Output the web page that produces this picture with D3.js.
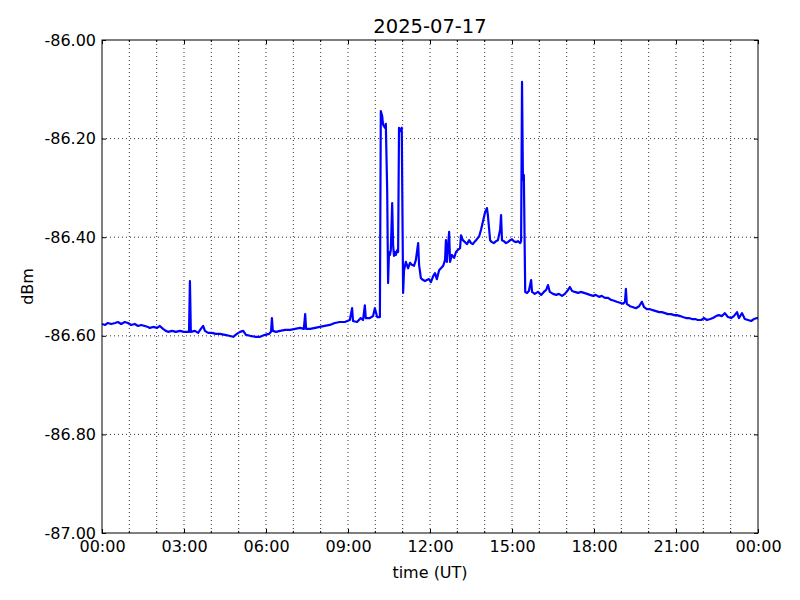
<!DOCTYPE html>
<html>
<head>
<meta charset="utf-8">
<script src="https://cdn.jsdelivr.net/npm/d3@7"></script>
<style>
  body { margin: 0; background: #fff; }
  text { font-family: "DejaVu Sans", sans-serif; fill: #000; }
</style>
</head>
<body>
<div id="chart"></div>
<script>
// readings for 2025-07-17, time of day (UT) and level in dBm
var times = [
  "00:00","00:07","00:13","00:20","00:29","00:35","00:42","00:50","00:57","01:04",
  "01:12","01:19","01:26","01:34","01:41","01:45","01:52","02:01","02:07","02:14",
  "02:20","02:25","02:34","02:42","02:51","03:00","03:09","03:11","03:13","03:15",
  "03:24","03:31","03:37","03:42","03:46","03:53","04:01","04:10","04:19","04:30",
  "04:39","04:48","04:56","05:03","05:10","05:16","05:25","05:36","05:47","05:58",
  "06:07","06:11","06:13","06:15","06:22","06:31","06:42","06:53","07:04","07:15",
  "07:23","07:26","07:28","07:37","07:48","07:58","08:09","08:20","08:31","08:42",
  "08:53","09:04","09:09","09:11","09:20","09:28","09:33","09:37","09:39","09:48",
  "09:55","09:59","10:04","10:10","10:12","10:15","10:17","10:21","10:23","10:26",
  "10:28","10:30","10:32","10:34","10:37","10:39","10:41","10:43","10:45","10:48",
  "10:50","10:52","10:54","10:56","10:58","11:01","11:03","11:07","11:12","11:16",
  "11:20","11:25","11:29","11:34","11:36","11:40","11:45","11:49","11:53","11:58",
  "12:02","12:07","12:11","12:15","12:20","12:24","12:29","12:33","12:35","12:37",
  "12:42","12:44","12:48","12:53","12:57","13:01","13:06","13:08","13:12","13:17",
  "13:21","13:26","13:30","13:34","13:39","13:43","13:48","13:52","13:56","14:01",
  "14:05","14:07","14:12","14:16","14:20","14:25","14:29","14:34","14:36","14:38",
  "14:42","14:47","14:51","14:56","15:00","15:04","15:09","15:13","15:18","15:20",
  "15:22","15:24","15:26","15:29","15:33","15:37","15:42","15:44","15:50","15:57",
  "16:04","16:10","16:15","16:19","16:23","16:30","16:37","16:43","16:50","16:56",
  "17:03","17:07","17:12","17:18","17:25","17:31","17:38","17:45","17:51","17:58",
  "18:04","18:11","18:17","18:24","18:31","18:37","18:44","18:50","18:57","19:04",
  "19:08","19:10","19:12","19:19","19:26","19:32","19:39","19:45","19:50","19:56",
  "20:03","20:09","20:16","20:23","20:29","20:36","20:42","20:49","20:56","21:02",
  "21:09","21:15","21:22","21:28","21:35","21:42","21:48","21:55","22:01","22:08",
  "22:15","22:21","22:28","22:34","22:41","22:47","22:54","23:01","23:07","23:14",
  "23:18","23:25","23:31","23:38","23:45","23:51","23:58","24:00"
];

var dbm = [
  -86.576,-86.578,-86.574,-86.576,-86.574,-86.572,-86.576,-86.572,-86.574,-86.578,
  -86.576,-86.580,-86.578,-86.580,-86.582,-86.584,-86.582,-86.584,-86.580,-86.586,
  -86.590,-86.592,-86.590,-86.592,-86.590,-86.592,-86.592,-86.592,-86.489,-86.592,
  -86.590,-86.594,-86.586,-86.580,-86.590,-86.594,-86.594,-86.596,-86.596,-86.598,
  -86.600,-86.602,-86.596,-86.592,-86.590,-86.598,-86.600,-86.602,-86.602,-86.598,
  -86.596,-86.592,-86.564,-86.590,-86.592,-86.590,-86.588,-86.588,-86.586,-86.584,
  -86.586,-86.556,-86.586,-86.586,-86.584,-86.582,-86.580,-86.578,-86.574,-86.572,
  -86.572,-86.568,-86.544,-86.570,-86.572,-86.564,-86.568,-86.538,-86.564,-86.564,
  -86.560,-86.544,-86.562,-86.562,-86.144,-86.154,-86.172,-86.178,-86.170,-86.304,
  -86.493,-86.430,-86.436,-86.426,-86.331,-86.416,-86.438,-86.430,-86.436,-86.426,
  -86.430,-86.178,-86.185,-86.183,-86.178,-86.513,-86.467,-86.450,-86.463,-86.452,
  -86.456,-86.458,-86.446,-86.412,-86.456,-86.483,-86.487,-86.489,-86.487,-86.485,
  -86.491,-86.479,-86.473,-86.485,-86.467,-86.463,-86.458,-86.446,-86.406,-86.450,
  -86.389,-86.450,-86.436,-86.442,-86.430,-86.426,-86.422,-86.396,-86.406,-86.410,
  -86.414,-86.406,-86.412,-86.414,-86.408,-86.404,-86.398,-86.385,-86.369,-86.349,
  -86.341,-86.355,-86.406,-86.410,-86.412,-86.408,-86.406,-86.385,-86.355,-86.406,
  -86.408,-86.412,-86.410,-86.406,-86.404,-86.408,-86.410,-86.408,-86.412,-86.408,
  -86.085,-86.284,-86.274,-86.511,-86.513,-86.509,-86.487,-86.511,-86.515,-86.511,
  -86.517,-86.511,-86.507,-86.497,-86.511,-86.515,-86.517,-86.515,-86.519,-86.515,
  -86.507,-86.501,-86.509,-86.511,-86.513,-86.511,-86.513,-86.515,-86.517,-86.519,
  -86.517,-86.521,-86.519,-86.523,-86.523,-86.527,-86.529,-86.531,-86.533,-86.535,
  -86.531,-86.505,-86.535,-86.540,-86.542,-86.544,-86.540,-86.531,-86.542,-86.546,
  -86.546,-86.548,-86.550,-86.552,-86.552,-86.554,-86.556,-86.556,-86.558,-86.558,
  -86.560,-86.562,-86.564,-86.564,-86.566,-86.566,-86.568,-86.568,-86.564,-86.568,
  -86.566,-86.564,-86.560,-86.558,-86.560,-86.554,-86.562,-86.564,-86.560,-86.552,
  -86.564,-86.554,-86.566,-86.568,-86.570,-86.566,-86.564,-86.564
];

var yTicks = [-87.0, -86.8, -86.6, -86.4, -86.2, -86.0];
var titleText = "2025-07-17";
var xLabel = "time (UT)";
var yLabel = "dBm";

var width = 800, height = 600;
var margin = {top: 40, right: 42, bottom: 67, left: 102};
var w = width - margin.left - margin.right;
var h = height - margin.top - margin.bottom;

var day0 = Date.UTC(2025, 6, 17);
function toDate(s) {
  var p = s.split(":");
  return new Date(day0 + (+p[0] * 60 + +p[1]) * 60000);
}

var data = times.map(function(t, i) { return {t: toDate(t), v: dbm[i]}; });

var svg = d3.select("#chart").append("svg")
  .attr("width", width)
  .attr("height", height);

var g = svg.append("g")
  .attr("transform", "translate(" + margin.left + "," + margin.top + ")");

var x = d3.scaleUtc()
  .domain([new Date(day0), new Date(day0 + 24 * 3600000)])
  .range([0, w]);

var y = d3.scaleLinear()
  .domain([-87, -86])
  .range([h, 0]);

var majorX = d3.utcHour.every(3).range(x.domain()[0], new Date(day0 + 24 * 3600000 + 1));
var minorX = d3.utcHour.every(1).range(x.domain()[0], new Date(day0 + 24 * 3600000 + 1));

// grid, dotted like matplotlib classic
g.append("g").selectAll("line.vgrid")
  .data(minorX.slice(1, -1))
  .enter().append("line")
  .attr("x1", d => x(d)).attr("x2", d => x(d))
  .attr("y1", 0).attr("y2", h)
  .attr("stroke", "#000")
  .attr("stroke-width", 0.8)
  .attr("stroke-dasharray", "1,3");

g.append("g").selectAll("line.hgrid")
  .data(yTicks.slice(1, -1))
  .enter().append("line")
  .attr("x1", 0).attr("x2", w)
  .attr("y1", d => y(d)).attr("y2", d => y(d))
  .attr("stroke", "#000")
  .attr("stroke-width", 0.8)
  .attr("stroke-dasharray", "1,3");

// data line
var clip = svg.append("defs").append("clipPath").attr("id", "clip");
clip.append("rect").attr("width", w).attr("height", h);

var line = d3.line()
  .x(d => x(d.t))
  .y(d => y(d.v));

g.append("path")
  .datum(data)
  .attr("clip-path", "url(#clip)")
  .attr("fill", "none")
  .attr("stroke", "#0000ff")
  .attr("stroke-width", 2.2)
  .attr("stroke-linejoin", "round")
  .attr("d", line);

// axes: inward ticks on all four sides
var fmt = d3.utcFormat("%H:%M");
var yFmt = d => d.toFixed(2); // plain hyphen minus, like the original

var xBottom = d3.axisBottom(x).tickValues(majorX).tickFormat(fmt).tickSizeInner(-4).tickSizeOuter(0).tickPadding(8);
var xTop = d3.axisTop(x).tickValues(majorX).tickFormat("").tickSizeInner(-4).tickSizeOuter(0);
var yLeft = d3.axisLeft(y).tickValues(yTicks).tickFormat(yFmt).tickSizeInner(-4).tickSizeOuter(0).tickPadding(6);
var yRight = d3.axisRight(y).tickValues(yTicks).tickFormat("").tickSizeInner(-4).tickSizeOuter(0);

function styleAxis(sel) {
  sel.select(".domain").remove();
  sel.selectAll("line").attr("stroke", "#000").attr("stroke-width", 1);
  sel.selectAll("text")
    .style("font-family", "'DejaVu Sans', sans-serif")
    .style("font-size", "16px")
    .attr("fill", "#000");
}

g.append("g").attr("transform", "translate(0," + h + ")").call(xBottom).call(styleAxis);
g.append("g").call(xTop).call(styleAxis);
g.append("g").call(yLeft).call(styleAxis);
g.append("g").attr("transform", "translate(" + w + ",0)").call(yRight).call(styleAxis);

// minor hourly ticks
var minorOnly = minorX.filter(d => d.getUTCHours() % 3 !== 0);
g.append("g").selectAll("line")
  .data(minorOnly)
  .enter().append("line")
  .attr("x1", d => x(d)).attr("x2", d => x(d))
  .attr("y1", h).attr("y2", h - 2)
  .attr("stroke", "#000");
g.append("g").selectAll("line")
  .data(minorOnly)
  .enter().append("line")
  .attr("x1", d => x(d)).attr("x2", d => x(d))
  .attr("y1", 0).attr("y2", 2)
  .attr("stroke", "#000");

// frame
g.append("rect")
  .attr("width", w)
  .attr("height", h)
  .attr("fill", "none")
  .attr("stroke", "#000")
  .attr("stroke-width", 1);

// labels
svg.append("text")
  .attr("x", margin.left + w / 2)
  .attr("y", 33)
  .attr("text-anchor", "middle")
  .style("font-size", "19.5px")
  .text(titleText);

svg.append("text")
  .attr("x", margin.left + w / 2)
  .attr("y", 578)
  .attr("text-anchor", "middle")
  .style("font-size", "16px")
  .text(xLabel);

svg.append("text")
  .attr("transform", "translate(33," + (margin.top + h / 2) + ") rotate(-90)")
  .attr("text-anchor", "middle")
  .style("font-size", "16px")
  .text(yLabel);
</script>
</body>
</html>
